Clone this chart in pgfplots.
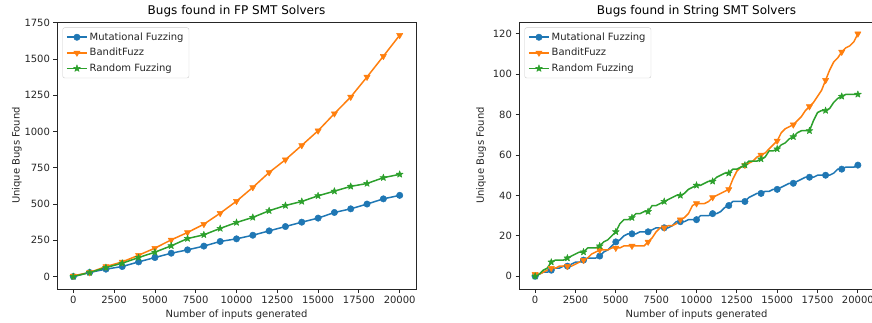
\documentclass[border=0pt]{standalone}
\usepackage{fontspec}
\setmainfont{DejaVu Sans}
\usepackage{pgfplots}
\usepackage{pgfplotstable}
\pgfplotsset{compat=1.18}
\usetikzlibrary{plotmarks}
\definecolor{c0}{HTML}{1F77B4}
\definecolor{c1}{HTML}{FF7F0E}
\definecolor{c2}{HTML}{2CA02C}
\definecolor{spine}{HTML}{262626}

\pgfdeclareplotmark{fstar}{%
  \pgfpathmoveto{\pgfpointpolar{90}{1.2\pgfplotmarksize}}%
  \pgfpathlineto{\pgfpointpolar{126}{0.48\pgfplotmarksize}}%
  \pgfpathlineto{\pgfpointpolar{162}{1.2\pgfplotmarksize}}%
  \pgfpathlineto{\pgfpointpolar{198}{0.48\pgfplotmarksize}}%
  \pgfpathlineto{\pgfpointpolar{234}{1.2\pgfplotmarksize}}%
  \pgfpathlineto{\pgfpointpolar{270}{0.48\pgfplotmarksize}}%
  \pgfpathlineto{\pgfpointpolar{306}{1.2\pgfplotmarksize}}%
  \pgfpathlineto{\pgfpointpolar{342}{0.48\pgfplotmarksize}}%
  \pgfpathlineto{\pgfpointpolar{18}{1.2\pgfplotmarksize}}%
  \pgfpathlineto{\pgfpointpolar{54}{0.48\pgfplotmarksize}}%
  \pgfpathclose
  \pgfusepathqfillstroke
}

\pgfplotstableread{
x y
0 0
1000 28
2000 51
3000 69
4000 101
5000 131
6000 161
7000 184
8000 210
9000 242
10000 260
11000 285
12000 315
13000 345
14000 375
15000 403
16000 442
17000 467
18000 500
19000 536
20000 560
}\fpmut
\pgfplotstableread{
x y
0 5
1000 28
2000 69
3000 101
4000 147
5000 196
6000 253
7000 304
8000 361
9000 437
10000 520
11000 615
12000 718
13000 806
14000 905
15000 1006
16000 1124
17000 1239
18000 1377
19000 1520
20000 1665
}\fpband
\pgfplotstableread{
x y
0 0
1000 28
2000 62
3000 92
4000 131
5000 168
6000 212
7000 262
8000 288
9000 332
10000 373
11000 408
12000 454
13000 490
14000 518
15000 557
16000 589
17000 622
18000 642
19000 682
20000 705
}\fprand

\pgfplotstableread{
x y
0 0
250 1
500 2
750 2
1000 3
1250 4
1500 4
1750 5
2000 5
2250 6
2500 7
2750 7
3000 8
3250 9
3500 9
3750 9
4000 10
4250 12
4500 13
4750 15
5000 17
5250 18
5500 20
5750 21
6000 21
6250 21
6500 22
6750 22
7000 22
7250 23
7500 24
7750 24
8000 24
8250 24
8500 25
8750 27
9000 27
9250 27
9500 28
9750 28
10000 28
10250 30
10500 30
10750 30
11000 31
11250 31
11500 32
11750 34
12000 35
12250 37
12500 37
12750 37
13000 37
13250 39
13500 40
13750 41
14000 41
14250 42
14500 42
14750 43
15000 43
15250 44
15500 45
15750 46
16000 46
16250 47
16500 48
16750 49
17000 49
17250 49
17500 50
17750 50
18000 50
18250 50
18500 51
18750 53
19000 53
19250 54
19500 54
19750 54
20000 55
}\strmut
\pgfplotstableread{
x y
0 1
250 1
500 2
750 3
1000 4
1250 4
1500 5
1750 5
2000 5
2250 5
2500 6
2750 7
3000 8
3250 9
3500 11
3750 12
4000 13
4250 13
4500 13
4750 14
5000 14
5250 14
5500 15
5750 15
6000 15
6250 15
6500 15
6750 15
7000 17
7250 19
7500 22
7750 24
8000 24
8250 25
8500 25
8750 26
9000 28
9250 29
9500 31
9750 35
10000 36
10250 36
10500 36
10750 37
11000 39
11250 40
11500 41
11750 42
12000 43
12250 48
12500 52
12750 54
13000 55
13250 56
13500 57
13750 59
14000 60
14250 61
14500 63
14750 65
15000 67
15250 71
15500 73
15750 74
16000 75
16250 77
16500 79
16750 82
17000 84
17250 86
17500 89
17750 92
18000 97
18250 102
18500 106
18750 108
19000 111
19250 113
19500 114
19750 116
20000 120
}\strband
\pgfplotstableread{
x y
0 0
250 1
500 3
750 4
1000 7
1250 8
1500 8
1750 8
2000 9
2250 10
2500 11
2750 12
3000 12
3250 14
3500 14
3750 14
4000 15
4250 17
4500 18
4750 20
5000 22
5250 26
5500 28
5750 28
6000 29
6250 31
6500 31
6750 32
7000 32
7250 35
7500 35
7750 36
8000 37
8250 38
8500 39
8750 40
9000 40
9250 41
9500 43
9750 44
10000 45
10250 45
10500 46
10750 47
11000 47
11250 49
11500 50
11750 51
12000 51
12250 53
12500 53
12750 54
13000 55
13250 57
13500 57
13750 57
14000 58
14250 59
14500 62
14750 62
15000 63
15250 65
15500 66
15750 68
16000 69
16250 71
16500 72
16750 72
17000 72
17250 77
17500 81
17750 82
18000 82
18250 83
18500 86
18750 88
19000 89
19250 90
19500 90
19750 90
20000 90
}\strrand

\pgfplotsset{
  mpl/.style={
    scale only axis,
    height=267pt,
    axis line style={line width=0.8pt, spine},
    tick align=outside,
    xtick pos=left, ytick pos=left,
    major tick length=3.5pt,
    every tick/.style={line width=0.8pt, spine},
    /pgf/number format/assume math mode=true,
    scaled ticks=false,
    xticklabel style={/pgf/number format/.cd, fixed, 1000 sep={}},
    yticklabel style={/pgf/number format/.cd, fixed, 1000 sep={}},
    tick label style={font=\fontsize{10}{12}\selectfont, text=spine},
    label style={font=\fontsize{10}{12}\selectfont, text=spine},
    title style={font=\fontsize{12}{14}\selectfont, text=black, yshift=-4.5pt},
    xmin=-1000, xmax=21000,
    xtick={0,2500,5000,7500,10000,12500,15000,17500,20000},
    xlabel={Number of inputs generated},
    ylabel={Unique Bugs Found},
    xlabel style={yshift=1pt},
    legend cell align=left,
    legend style={at={(0,1)}, anchor=north west, xshift=5.5pt, yshift=-5.5pt,
      draw=black!20, rounded corners=2pt, font=\fontsize{10}{12}\selectfont,
      row sep=2.5pt, inner xsep=3.5pt, inner ysep=3pt, text=spine},
    legend image code/.code={\draw[sharp plot, mark repeat=2, mark phase=2] plot coordinates {(0pt,0pt)(10pt,0pt)(20pt,0pt)};},
    every axis plot/.append style={line width=1.5pt, line join=round, sharp plot},
  },
  mut/.style={color=c0, mark=*, mark size=3.2pt, mark options={solid, fill=c0, line width=0.5pt}},
  band/.style={color=c1, mark=triangle*, mark size=3.6pt, mark options={solid, fill=c1, rotate=180, line width=0.5pt}},
  rnd/.style={color=c2, mark=fstar, mark size=3pt, mark options={solid, fill=c2, line width=0.5pt}},
}

\begin{document}
\begin{tikzpicture}
\useasboundingbox (0,0) rectangle (872pt,322pt);
\begin{axis}[mpl, at={(57pt,33pt)}, anchor=south west, width=359pt,
  title={Bugs found in FP SMT Solvers},
  ylabel style={yshift=-4pt},
  ymin=-86, ymax=1756,
  ytick={0,250,500,750,1000,1250,1500,1750}]
\addplot[mut] table[x=x,y=y] {\fpmut};
\addlegendentry{Mutational Fuzzing}
\addplot[band] table[x=x,y=y] {\fpband};
\addlegendentry{BanditFuzz}
\addplot[rnd] table[x=x,y=y] {\fprand};
\addlegendentry{Random Fuzzing}
\end{axis}
\begin{axis}[mpl, at={(519pt,33pt)}, anchor=south west, width=355pt,
  title={Bugs found in String SMT Solvers},
  ymin=-6.3, ymax=125.8,
  ytick={0,20,40,60,80,100,120}]
\addplot[mut, mark repeat=4] table[x=x,y=y] {\strmut};
\addlegendentry{Mutational Fuzzing}
\addplot[band, mark repeat=4] table[x=x,y=y] {\strband};
\addlegendentry{BanditFuzz}
\addplot[rnd, mark repeat=4] table[x=x,y=y] {\strrand};
\addlegendentry{Random Fuzzing}
\end{axis}
\end{tikzpicture}
\end{document}
